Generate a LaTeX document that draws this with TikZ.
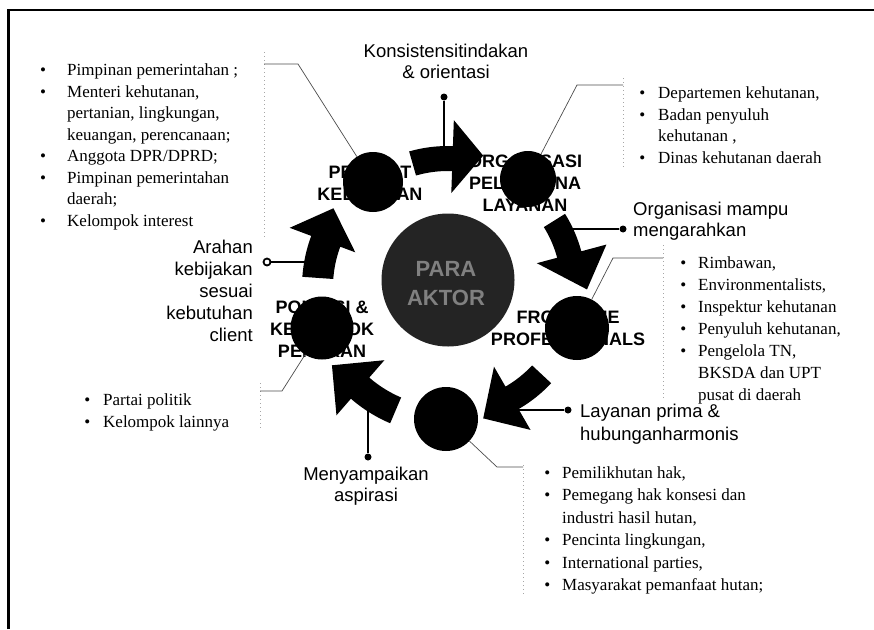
\documentclass[tikz,border=0pt]{standalone}
\usepackage{fontspec}
\setmainfont{Liberation Serif}
\setsansfont{Liberation Sans}
\usetikzlibrary{calc}
\newcommand{\bl}[1]{\leavevmode\llap{\textbullet\hspace{#1}}}
% #1 tail angle, #2 head-base angle, #3 tip angle, #4 body inner r, #5 body outer r, #6 head inner r, #7 head outer r, #8 tip r
\newcommand{\ringarrow}[8]{%
  \fill[shift={(448,287)}] plot[domain=#1:#2,samples=20] (\x:#5) -- (#2:#7) -- (#3:#8) -- (#2:#6) -- plot[domain=#2:#1,samples=20] (\x:#4) -- cycle;}
\begin{document}
\begin{tikzpicture}[x=1pt,y=-1pt,
  lst/.style={inner sep=0, font=\fontsize{17}{21.5}\selectfont},
  lab/.style={inner sep=0, font=\sffamily\fontsize{18.5}{21.5}\selectfont},
  clab/.style={inner sep=0, font=\sffamily\bfseries\fontsize{18}{22}\selectfont},
  actor/.style={circle, fill=black, inner sep=0},
  dotn/.style={circle, fill=black, inner sep=0, minimum size=7pt},
  conn/.style={line width=1.5pt},
  leader/.style={line width=0.7pt, black!70},
  guide/.style={black!35, line width=0.6pt, dash pattern=on 1pt off 3pt}]
\useasboundingbox (0,0) rectangle (874,629);
% frame
\draw[line width=2.5pt] (8.5,629) -- (8.5,10) -- (874,10);
% guides
\draw[guide] (264,52) -- (264,237);
\draw[guide] (623,78) -- (623,170);
\draw[guide] (663,245) -- (663,400);
\draw[guide] (523,465) -- (523,597);
\draw[guide] (260,383) -- (260,428);
% circle labels (under circles)
\node[clab, anchor=base] (tPej) at (370,178.5) {\parbox[t]{150pt}{\centering PEJABAT\\KEBIJAKAN}};
\node[clab, anchor=base] (tOrg) at (525,167.5) {\parbox[t]{150pt}{\centering ORGANISASI\\PELAKSANA\\LAYANAN}};
\node[clab, anchor=base] (tFro) at (568,323.5) {\parbox[t]{170pt}{\centering FRONTLINE\\PROFESSIONALS}};
\node[clab, anchor=base] (tPol) at (322,313.5) {\parbox[t]{150pt}{\centering POLITISI \&\\KELOMPOK\\PENEKAN}};
% dots
\node[dotn] (dKons) at (444,97) {};
\node[dotn] (dOrg) at (623,229) {};
\node[dotn] (dLay) at (568,410) {};
\node[dotn] (dMen) at (368,457) {};
\node[dotn, fill=white, draw=black, line width=1.8pt, minimum size=7pt] (dAra) at (267,262) {};
% connector ends
\coordinate (ctr) at (448,287);
\coordinate (kA) at ($(ctr)+(-92:135)$);
\coordinate (kB) at ($(ctr)+(-22:134)$);
\coordinate (kC) at ($(ctr)+(61:138)$);
\coordinate (kD) at ($(ctr)+(126:136)$);
\coordinate (kE) at ($(ctr)+(190:135)$);
\draw[conn] (dKons) -- (dKons |- kA);
\draw[conn] (dOrg) -- (dOrg -| kB);
\draw[conn] (dLay) -- (dLay -| kC);
\draw[conn] (dMen) -- (dMen |- kD);
\draw[conn] (dAra) -- (dAra -| kE);
% arrows
\ringarrow{-106}{-88}{-75}{116}{141}{94}{167}{136}
\ringarrow{-32}{-15}{1}{113}{138}{92}{164}{139}
\ringarrow{43}{60}{75}{115}{141}{92}{165}{136}
\ringarrow{113}{131}{146}{120}{148}{97}{170}{140}
\ringarrow{184}{200.5}{214.5}{115}{146}{99}{169}{139}
% circles
\node[actor, minimum size=60pt] (cPej) at (373,182) {};
\node[actor, minimum size=56pt] (cOrg) at (528,179) {};
\node[actor, minimum size=64pt] (cFro) at (577,328) {};
\node[actor, minimum size=64pt] (cBot) at (446,419) {};
\node[actor, minimum size=63pt] (cPol) at (322,328) {};
% leaders
\coordinate (pPej1) at (298,64); \coordinate (pPej2) at (264,64);
\coordinate (pOrg1) at (577,85); \coordinate (pOrg2) at (623,85);
\coordinate (pFro1) at (613,258); \coordinate (pFro2) at (663,258);
\coordinate (pBot1) at (497,467); \coordinate (pBot2) at (523,467);
\coordinate (pPol1) at (282,391); \coordinate (pPol2) at (260,391);
\draw[leader] (cPej) -- (pPej1) -- (pPej2);
\draw[leader] (cOrg) -- (pOrg1) -- (pOrg2);
\draw[leader] (cFro) -- (pFro1) -- (pFro2);
\draw[leader] (cBot) -- (pBot1) -- (pBot2);
\draw[leader] (cPol) -- (pPol1) -- (pPol2);
% central circle
\node[circle, fill=black!86, minimum size=133pt, inner sep=0] (para) at (448,280) {};
\node[anchor=base, inner sep=0, font=\sffamily\bfseries\fontsize{22}{29}\selectfont, text=black!50] (tPara) at (446,276) {\parbox[t]{100pt}{\centering PARA\\AKTOR}};
% lists
\node[lst, anchor=base west] (lPej) at (67,75.5) {\parbox[t]{200pt}{\raggedright
  \bl{21pt}Pimpinan pemerintahan ;\\
  \bl{21pt}Menteri kehutanan,\\
  pertanian, lingkungan,\\
  keuangan, perencanaan;\\
  \bl{21pt}Anggota DPR/DPRD;\\
  \bl{21pt}Pimpinan pemerintahan\\
  daerah;\\
  \bl{21pt}Kelompok interest}};
\node[lst, anchor=base west, font=\fontsize{17}{21.7}\selectfont] (lOrg) at (658,98.5) {\parbox[t]{200pt}{\raggedright
  \bl{13pt}Departemen kehutanan,\\
  \bl{13pt}Badan penyuluh\\
  kehutanan ,\\
  \bl{13pt}Dinas kehutanan daerah}};
\node[lst, anchor=base west, font=\fontsize{17}{22}\selectfont] (lFro) at (698,268.5) {\parbox[t]{170pt}{\raggedright
  \bl{12pt}Rimbawan,\\
  \bl{12pt}Environmentalists,\\
  \bl{12pt}Inspektur kehutanan\\
  \bl{12pt}Penyuluh kehutanan,\\
  \bl{12pt}Pengelola TN,\\
  BKSDA dan UPT\\
  pusat di daerah}};
\node[lst, anchor=base west, font=\fontsize{17}{22.4}\selectfont] (lBot) at (562,478.5) {\parbox[t]{250pt}{\raggedright
  \bl{12pt}Pemilikhutan hak,\\
  \bl{12pt}Pemegang hak konsesi dan\\
  industri hasil hutan,\\
  \bl{12pt}Pencinta lingkungan,\\
  \bl{12pt}International parties,\\
  \bl{12pt}Masyarakat pemanfaat hutan;}};
\node[lst, anchor=base west, font=\fontsize{17}{22}\selectfont] (lPol) at (103,405.5) {\parbox[t]{150pt}{\raggedright
  \bl{13pt}Partai politik\\
  \bl{13pt}Kelompok lainnya}};
% labels
\node[lab, anchor=base] (tKons) at (446,57) {\parbox[t]{220pt}{\centering Konsistensitindakan\\\& orientasi}};
\node[lab, anchor=base west] (tOrgM) at (633,215) {\parbox[t]{200pt}{\raggedright Organisasi mampu\\mengarahkan}};
\node[lab, anchor=base west, font=\sffamily\fontsize{18.5}{23}\selectfont] (tLay) at (580,417) {\parbox[t]{200pt}{\raggedright Layanan prima \&\\hubunganharmonis}};
\node[lab, anchor=base] (tMen) at (366,480) {\parbox[t]{200pt}{\centering Menyampaikan\\aspirasi}};
\node[lab, anchor=base east, font=\sffamily\fontsize{18.5}{22}\selectfont] (tAra) at (253,253.5) {\parbox[t]{150pt}{\raggedleft Arahan\\kebijakan\\sesuai\hspace{5pt}\\kebutuhan\\client}};
\end{tikzpicture}
\end{document}
